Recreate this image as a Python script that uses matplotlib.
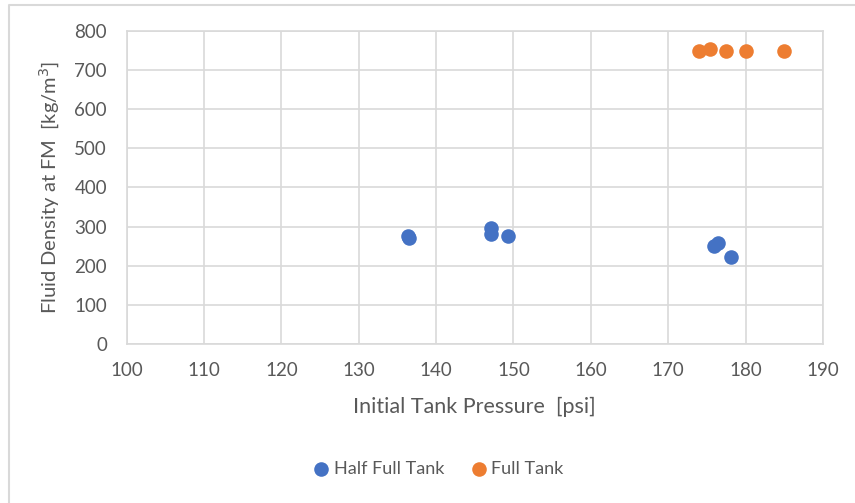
import matplotlib.pyplot as plt
from matplotlib.lines import Line2D

plt.rcParams['font.family'] = ['Lato', 'DejaVu Sans']

# Half full tank runs
half_p = [136.4, 136.5, 147.1, 147.1, 149.3, 175.9, 176.4, 178.1]
half_rho = [276, 270, 297, 280, 275, 250, 257, 223]

# Full tank runs
full_p = [174.0, 175.4, 177.5, 180.0, 185.0]
full_rho = [749, 752, 749, 749, 749]

xticks = list(range(100, 191, 10))
yticks = list(range(0, 801, 100))

grey_txt = '#595959'
grid_c = '#d9d9d9'

fig = plt.figure(figsize=(8.55, 5.03), dpi=100)
ax = fig.add_axes([0.148, 0.316, 0.8146, 0.623])

ax.scatter(half_p, half_rho, s=110, color='#4472c4', label='Half Full Tank', zorder=3, linewidths=0)
ax.scatter(full_p, full_rho, s=110, color='#ed7d31', label='Full Tank', zorder=3, linewidths=0)

ax.set_xlim(100, 190)
ax.set_ylim(0, 800)
ax.set_xticks(xticks)
ax.set_yticks(yticks)
ax.grid(True, color=grid_c, lw=1.2)
ax.set_axisbelow(True)
for s in ax.spines.values():
    s.set_color(grid_c)
    s.set_linewidth(1.2)
ax.tick_params(length=0, labelsize=13.5, labelcolor=grey_txt)
ax.tick_params(axis='y', pad=14)
ax.tick_params(axis='x', pad=13)

ax.set_xlabel('Initial Tank Pressure  [psi]', fontsize=15.5, color=grey_txt, labelpad=13)
ax.set_ylabel('Fluid Density at FM  [kg/m$^3$]', fontsize=14.5, color=grey_txt, labelpad=9)

leg = fig.legend(loc='center', bbox_to_anchor=(0.507, 0.068), ncol=2, frameon=False,
                 fontsize=13, handletextpad=-0.3, columnspacing=0.9, markerscale=1.0)
for t in leg.get_texts():
    t.set_color(grey_txt)

# light chart border (only left and top edges show in the export)
fig.lines.append(Line2D([0.0105, 0.0105, 1.0], [0.0, 0.99, 0.99], transform=fig.transFigure,
                        color='#d9d9d9', lw=1.5))

fig.savefig('out.png', dpi=100)
